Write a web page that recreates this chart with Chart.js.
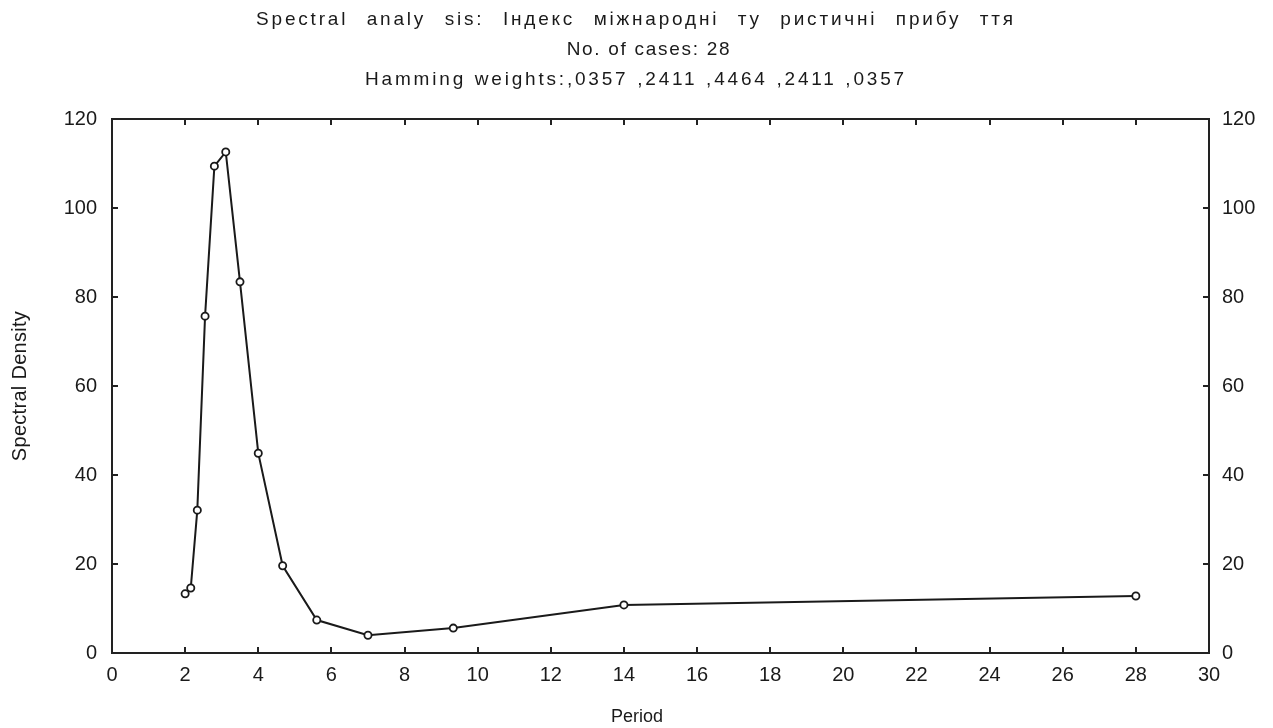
<!DOCTYPE html>
<html>
<head>
<meta charset="utf-8">
<script src="https://cdn.jsdelivr.net/npm/chart.js@4.4.0/dist/chart.umd.min.js"></script>
<style>
html,body{margin:0;padding:0;background:#fff;}
#wrap{width:1273px;height:728px;}
</style>
</head>
<body>
<div id="wrap"><canvas id="c" width="1273" height="728"></canvas></div>
<script>
const titleLines = [
  "Spectral analy sis: Індекс міжнародні ту ристичні прибу ття",
  "No. of cases: 28",
  "Hamming weights:,0357 ,2411 ,4464 ,2411 ,0357"
];
const xTitle = "Period";
const yTitle = "Spectral Density";
const periods = [28, 14, 9.333, 7, 5.6, 4.667, 4, 3.5, 3.111, 2.8, 2.545, 2.333, 2.154, 2.0];
const density = [12.8, 10.8, 5.6, 4.0, 7.4, 19.6, 44.9, 83.4, 112.6, 109.4, 75.7, 32.1, 14.6, 13.3];
const xMin = 0, xMax = 30, xStep = 2;
const yMin = 0, yMax = 120, yStep = 20;

const points = periods.map((p, i) => ({x: p, y: density[i]}));
const FONT = "'Liberation Sans', Arial, sans-serif";
const INK = '#1a1a1a';

const titleStyle = [
  {size: 19, width: 757, x: 636, y: 20},
  {size: 19, width: 163, x: 649, y: 50},
  {size: 19, width: 539, x: 636, y: 80}
];

function fitText(ctx, text, size, width, x, y, rot, maxLs) {
  ctx.save();
  ctx.font = size + 'px ' + FONT;
  ctx.fillStyle = INK;
  ctx.textAlign = 'left';
  ctx.textBaseline = 'middle';
  const hasLs = 'letterSpacing' in ctx;
  const hasWs = 'wordSpacing' in ctx;
  if (hasLs) ctx.letterSpacing = '0px';
  if (hasWs) ctx.wordSpacing = '0px';
  const w0 = ctx.measureText(text).width;
  const n = text.length;
  const nSp = (text.match(/ /g) || []).length;
  let extra = width ? width - w0 : 0, ls = 0, ws = 0;
  if (hasLs && n > 1 && width) {
    ls = extra / (n - 1);
    if (maxLs !== undefined && hasWs && nSp > 0 && ls > maxLs) {
      ls = maxLs;
      ws = (extra - ls * (n - 1)) / nSp;
    }
    ctx.letterSpacing = ls + 'px';
    if (hasWs) ctx.wordSpacing = ws + 'px';
  }
  const w = ctx.measureText(text).width;
  ctx.translate(x, y);
  if (rot) ctx.rotate(rot);
  ctx.fillText(text, -w / 2, 0);
  ctx.restore();
}

const decor = {
  id: 'decor',
  afterDatasetsDraw(chart) {
    const ctx = chart.ctx, a = chart.chartArea;
    const xs = chart.scales.x, ys = chart.scales.y;
    ctx.save();
    ctx.strokeStyle = '#222';
    ctx.lineWidth = 2;
    ctx.strokeRect(a.left, a.top, a.right - a.left, a.bottom - a.top);
    const L = 6;
    ctx.beginPath();
    xs.ticks.forEach(t => {
      const px = Math.round(xs.getPixelForValue(t.value));
      ctx.moveTo(px, a.bottom); ctx.lineTo(px, a.bottom - L);
      ctx.moveTo(px, a.top); ctx.lineTo(px, a.top + L);
    });
    ys.ticks.forEach(t => {
      const py = Math.round(ys.getPixelForValue(t.value));
      ctx.moveTo(a.left, py); ctx.lineTo(a.left + L, py);
      ctx.moveTo(a.right, py); ctx.lineTo(a.right - L, py);
    });
    ctx.stroke();
    ctx.restore();

    titleLines.forEach((t, i) => {
      const s = titleStyle[i];
      fitText(ctx, t, s.size, s.width, s.x, s.y, 0, 2.8);
    });
    fitText(ctx, xTitle, 18, 0, 637, 717, 0);
    fitText(ctx, yTitle, 20, 150, 20, 386, -Math.PI / 2);
  }
};

new Chart(document.getElementById('c'), {
  type: 'scatter',
  data: {
    datasets: [{
      data: points,
      showLine: true,
      borderColor: INK,
      borderWidth: 2,
      pointRadius: 3.6,
      pointBorderWidth: 1.8,
      pointBorderColor: INK,
      pointBackgroundColor: '#ffffff',
      tension: 0
    }]
  },
  options: {
    responsive: false,
    animation: false,
    layout: {padding: {left: 0, right: 0, top: 119, bottom: 0}},
    plugins: {
      legend: {display: false},
      tooltip: {enabled: false},
      title: {display: false}
    },
    scales: {
      x: {
        type: 'linear', position: 'bottom', min: xMin, max: xMax,
        ticks: {stepSize: xStep, color: INK, font: {family: FONT, size: 20}, padding: 10, maxRotation: 0},
        grid: {display: false, drawTicks: false},
        border: {display: false},
        afterFit(s) { s.height = 75; }
      },
      y: {
        type: 'linear', position: 'left', min: yMin, max: yMax,
        ticks: {stepSize: yStep, color: INK, font: {family: FONT, size: 20}, padding: 15},
        grid: {display: false, drawTicks: false},
        border: {display: false},
        afterFit(s) { s.width = 112; }
      },
      y2: {
        type: 'linear', position: 'right', min: yMin, max: yMax,
        ticks: {stepSize: yStep, color: INK, font: {family: FONT, size: 20}, padding: 13},
        grid: {display: false, drawTicks: false},
        border: {display: false},
        afterFit(s) { s.width = 64; }
      }
    }
  },
  plugins: [decor]
});
</script>
</body>
</html>
